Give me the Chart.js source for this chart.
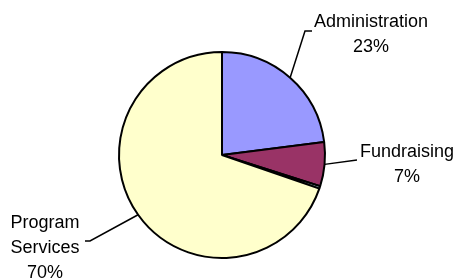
<!DOCTYPE html>
<html>
<head>
<meta charset="utf-8">
<script src="https://cdn.jsdelivr.net/npm/chart.js@4"></script>
<style>
  html, body { margin: 0; padding: 0; background: #fff; }
  #wrap { width: 457px; height: 278px; position: relative; }
</style>
</head>
<body>
<div id="wrap"><canvas id="myChart"></canvas></div>
<script>
// data
const categories = ['Administration', 'Fundraising', 'Other', 'Program Services'];
const shares = [23.0, 6.9, 0.4, 69.7];
const showLabel = [true, true, false, true];
const sliceColors = ['#9999FF', '#993366', '#CCFFFF', '#FFFFCC'];

// label text lines + where the leader elbows, per slice (layout only)
const labelLayout = [
  { lines: ['Administration', '{p}'], x: 371, y: 27, elbow: [[305, 31], [312, 31]] },
  { lines: ['Fundraising', '{p}'], x: 407, y: 157, elbow: [[357, 160]] },
  null,
  { lines: ['Program', 'Services', '{p}'], x: 45, y: 228, elbow: [[90, 241], [85, 241]] }
];

const leaderLabels = {
  id: 'leaderLabels',
  afterDatasetsDraw(chart) {
    const ctx = chart.ctx;
    const meta = chart.getDatasetMeta(0);
    const vals = chart.data.datasets[0].data;
    const total = vals.reduce((a, b) => a + b, 0);
    ctx.save();
    ctx.strokeStyle = '#000';
    ctx.lineWidth = 1.5;
    ctx.fillStyle = '#000';
    ctx.font = '18px "Liberation Sans", Arial, sans-serif';
    ctx.textAlign = 'center';
    ctx.textBaseline = 'alphabetic';
    meta.data.forEach((arc, i) => {
      const lay = labelLayout[i];
      if (!showLabel[i] || !lay) return;
      const p = arc.getProps(['x', 'y', 'startAngle', 'endAngle', 'outerRadius'], true);
      const mid = (p.startAngle + p.endAngle) / 2;
      const sx = p.x + Math.cos(mid) * p.outerRadius;
      const sy = p.y + Math.sin(mid) * p.outerRadius;
      ctx.beginPath();
      ctx.moveTo(sx, sy);
      lay.elbow.forEach(pt => ctx.lineTo(pt[0], pt[1]));
      ctx.stroke();
      const pct = Math.round(vals[i] / total * 100) + '%';
      lay.lines.forEach((t, k) => {
        ctx.fillText(t === '{p}' ? pct : t, lay.x, lay.y + k * 25);
      });
    });
    ctx.restore();
  }
};

const config = {
  type: 'pie',
  data: {
    labels: categories,
    datasets: [{
      data: shares,
      backgroundColor: sliceColors,
      borderColor: '#000',
      borderWidth: 2
    }]
  },
  options: {
    responsive: true,
    maintainAspectRatio: false,
    animation: false,
    layout: { padding: { left: 118, right: 131, top: 51, bottom: 19 } },
    plugins: {
      legend: { display: false },
      tooltip: { enabled: false }
    }
  },
  plugins: [leaderLabels]
};

new Chart(document.getElementById('myChart'), config);
</script>
</body>
</html>
